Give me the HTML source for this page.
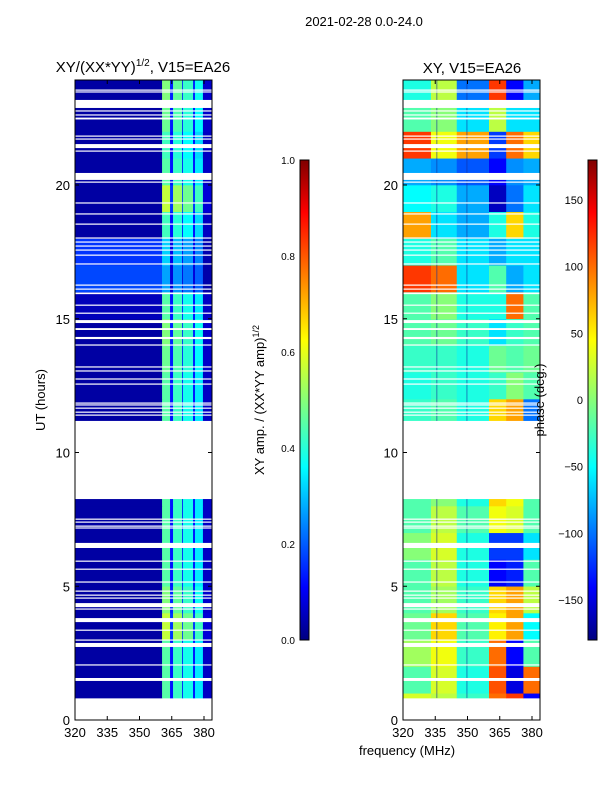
<!DOCTYPE html>
<html><head><meta charset="utf-8"><style>
body{margin:0;background:#fff;font-family:"Liberation Sans",sans-serif}
svg text{font-family:"Liberation Sans",sans-serif}
</style></head><body>
<svg id="s" width="600" height="800" xmlns="http://www.w3.org/2000/svg">
<defs><linearGradient id="jet" x1="0" y1="1" x2="0" y2="0">
<stop offset="0" stop-color="#000080"/><stop offset="0.11" stop-color="#0000ff"/><stop offset="0.36" stop-color="#00ffff"/><stop offset="0.625" stop-color="#ffff00"/><stop offset="0.89" stop-color="#ff0000"/><stop offset="1" stop-color="#800000"/></linearGradient></defs>
<text x="364" y="26" font-size="13" text-anchor="middle">2021-02-28 0.0-24.0</text>
<text x="143" y="72" font-size="15" text-anchor="middle">XY/(XX*YY)<tspan font-size="10" dy="-6">1/2</tspan><tspan dy="6">, V15=EA26</tspan></text>
<text x="472" y="73" font-size="15" text-anchor="middle">XY, V15=EA26</text>
<text x="407" y="755" font-size="13" text-anchor="middle">frequency (MHz)</text>
<text transform="translate(45,400) rotate(-90)" font-size="13" text-anchor="middle">UT (hours)</text>
<g id="left"></g>
<g id="right"></g>
<g id="axes"></g>
<rect x="300" y="160" width="9" height="480" fill="url(#jet)" stroke="#000" stroke-width="1"/>
<rect x="588" y="160" width="9" height="480" fill="url(#jet)" stroke="#000" stroke-width="1"/>
<text transform="translate(264,400) rotate(-90)" font-size="13" text-anchor="middle">XY amp. / (XX*YY amp)<tspan font-size="9" dy="-5">1/2</tspan></text>
<text transform="translate(544,400) rotate(-90)" font-size="13" text-anchor="middle">phase (deg.)</text>
</svg>
<script>
const hours=[0,1,2,3,4,5,6,7,8,9,10,11,12,13,14,15,16,17,18,19,20,21,22,23];
const ampBands=[[320,360.5],[360.5,364.2],[364.2,365.6],[365.6,369.8],[369.8,370.2],[370.2,374.9],[374.9,375.8],[375.8,379.5],[379.5,383.7]];
const ampProfile=[0.03,0.45,0.13,0.42,0.13,0.38,0.13,0.34,0.06];
const ampGain=[1,1,1,1.25,1.1,1,1,1,1,1,1,1,1,1.05,1.1,1,0.6,0.7,0.95,1.25,1,0.95,1.05,1.1];
const ampBg=[0.03,0.03,0.03,0.03,0.03,0.03,0.03,0.03,0.03,0.03,0.03,0.03,0.03,0.03,0.03,0.05,0.18,0.16,0.03,0.03,0.03,0.03,0.03,0.03];
const phBands=[[320,333],[333,345],[345,360],[360,368],[368,376],[376,383.7]];
const phase=[[30,20,-30,100,120,-140],[-20,30,-40,110,-150,100],[10,40,-30,100,-140,-20],[-10,60,-20,50,80,-50],[-20,10,-30,60,80,20],[-20,20,-40,-140,-130,-20],[0,30,-40,-120,-120,-60],[-20,20,-20,40,30,-20],[-20,0,-40,60,40,-20],[-20,0,-40,60,40,-20],[-20,0,-40,60,40,-20],[-30,-20,-40,60,80,-100],[-40,-30,-40,-30,0,-20],[-30,-30,-40,-10,-20,-10],[-20,-10,-30,-60,-30,-20],[-20,0,-40,-40,100,-20],[120,100,-60,-20,-80,-60],[-40,-20,-60,-80,-60,-60],[80,-60,-80,-40,60,-40],[-50,-40,-80,-160,-100,-60],[-80,-90,-110,-140,-90,-80],[120,40,80,-120,100,60],[-20,0,-60,20,-60,-60],[-40,20,-100,120,-140,-80]];
const dataRange=[0.82,23.93];
const gaps=[[23.53,23.57],[23.46,23.5],[22.88,23.18],[22.75,22.79],[22.6,22.64],[22.45,22.52],[21.81,21.85],[21.7,21.74],[21.38,21.53],[21.25,21.29],[20.19,20.45],[20.09,20.13],[19.31,19.35],[18.9,18.94],[18.52,18.56],[18,18.04],[17.85,17.89],[17.7,17.74],[17.55,17.59],[17.36,17.4],[17.03,17.07],[16.24,16.28],[16.09,16.13],[15.92,15.98],[15.49,15.53],[15.19,15.23],[14.84,14.95],[14.58,14.65],[14.24,14.32],[14,14.04],[13.18,13.22],[13.03,13.07],[12.73,12.77],[12.54,12.58],[11.83,11.87],[11.76,11.8],[11.64,11.68],[11.49,11.53],[11.38,11.42],[8.26,11.18],[7.49,7.53],[7.38,7.42],[7.23,7.27],[7.16,7.2],[6.43,6.62],[5.92,5.96],[5.62,5.66],[5.14,5.18],[4.8,4.84],[4.65,4.69],[4.54,4.58],[4.22,4.37],[4.13,4.17],[3.66,3.81],[3.34,3.38],[2.97,3.01],[2.73,2.88],[2.04,2.08],[1.46,1.57]];
const yTicks=[0,5,10,15,20];
const xTicks=[320,335,350,365,380];
const ampTicks=[0,0.2,0.4,0.6,0.8,1.0];
const phTicks=[-150,-100,-50,0,50,100,150];
const NS='http://www.w3.org/2000/svg';
const X0L=75,X0R=403,W=137,TOP=80,BOT=720;
function xs(f,x0){return x0+(f-320)*2.15;}
function ys(h){return BOT-h*26.75;}
function jet(v){v=Math.max(0,Math.min(1,v));
 const st=[[0,0,0,128],[0.11,0,0,255],[0.36,0,255,255],[0.625,255,255,0],[0.89,255,0,0],[1,128,0,0]];
 for(let i=1;i<st.length;i++){if(v<=st[i][0]){const a=st[i-1],b=st[i],t=(v-a[0])/(b[0]-a[0]);
 return 'rgb('+[1,2,3].map(k=>Math.round(a[k]+(b[k]-a[k])*t)).join(',')+')';}}return 'rgb(128,0,0)';}
function mk(tag,at,parent){const e=document.createElementNS(NS,tag);for(const k in at)e.setAttribute(k,at[k]);parent.appendChild(e);return e;}
const gL=document.getElementById('left'),gR=document.getElementById('right'),gA=document.getElementById('axes');
hours.forEach((h,i)=>{
 const h0=Math.max(h,dataRange[0]),h1=Math.min(h+1,dataRange[1]);if(h1<=h0)return;
 ampBands.forEach((b,j)=>{
  const v=j===0?ampBg[i]:Math.min(0.95,ampProfile[j]*ampGain[i]);
  const r=mk('rect',{x:xs(b[0],X0L),y:ys(h1),width:xs(b[1],X0L)-xs(b[0],X0L)+0.3,height:ys(h0)-ys(h1)+0.3,fill:jet(v)},gL);
  
  
 });
 phBands.forEach((b,j)=>{
  const v=(phase[i][j]+180)/360;
  const r=mk('rect',{x:xs(b[0],X0R),y:ys(h1),width:xs(b[1],X0R)-xs(b[0],X0R)+0.3,height:ys(h0)-ys(h1)+0.3,fill:jet(v)},gR);
  
  
 });
});
[gL,gR].forEach((g,k)=>{
 if(k===1){[335.5,349.5].forEach(f=>{const l=mk('rect',{x:xs(f,X0R),y:ys(dataRange[1]),width:1,height:ys(dataRange[0])-ys(dataRange[1]),fill:'#1030a0',opacity:0.6},g);
 
 });}
 gaps.forEach(gp=>{const r=mk('rect',{x:k?X0R:X0L,y:ys(gp[1]),width:W,height:Math.max(1.2,ys(gp[0])-ys(gp[1])),fill:'#fff'},g);
  
  });
});
[X0L,X0R].forEach((x0,k)=>{
 const f=mk('rect',{x:x0,y:TOP,width:W,height:BOT-TOP,fill:'none',stroke:'#000','stroke-width':1},gA);
 
 
 yTicks.forEach(t=>{const y=ys(t);
  mk('line',{x1:x0,x2:x0+4,y1:y,y2:y,stroke:'#000'},gA);mk('line',{x1:x0+W-4,x2:x0+W,y1:y,y2:y,stroke:'#000'},gA);
  const tx=mk('text',{x:x0-5,y:y+5,'font-size':13,'text-anchor':'end'},gA);tx.textContent=t;
  
  });
 xTicks.forEach(t=>{const x=xs(t,x0);
  mk('line',{x1:x,x2:x,y1:BOT,y2:BOT-4,stroke:'#000'},gA);mk('line',{x1:x,x2:x,y1:TOP,y2:TOP+4,stroke:'#000'},gA);
  const tx=mk('text',{x:x,y:BOT+17,'font-size':13,'text-anchor':'middle'},gA);tx.textContent=t;
  
  });
});
ampTicks.forEach(t=>{const y=640-t*480;
 mk('line',{x1:300,x2:303,y1:y,y2:y,stroke:'#000'},gA);
 const tx=mk('text',{x:295,y:y+4,'font-size':10,'text-anchor':'end'},gA);tx.textContent=t.toFixed(1);
 
 });
phTicks.forEach(t=>{const y=640-(t+180)/360*480;
 mk('line',{x1:588,x2:591,y1:y,y2:y,stroke:'#000'},gA);
 const tx=mk('text',{x:583,y:y+4,'font-size':11,'text-anchor':'end'},gA);tx.textContent=t<0?'\u2212'+(-t):t;
 
 });
</script>
</body></html>
